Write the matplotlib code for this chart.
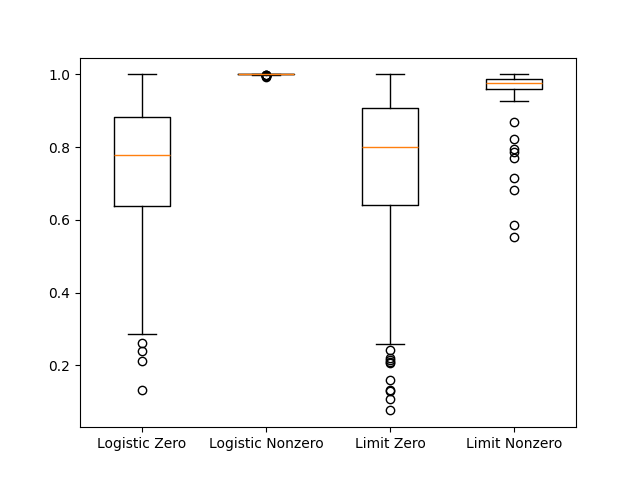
import matplotlib as mpl
import matplotlib.pyplot as plt

mpl.use('Agg')

# box stats
labels = ['Logistic Zero', 'Logistic Nonzero', 'Limit Zero', 'Limit Nonzero']
medians = [0.779, 1.0, 0.801, 0.977]
q1s = [0.639, 0.9999, 0.642, 0.960]
q3s = [0.883, 1.0, 0.908, 0.988]
whislos = [0.285, 0.9997, 0.258, 0.928]
whishis = [1.0, 1.0, 1.0, 1.0]
fliers = [
    [0.261, 0.240, 0.213, 0.133],
    [0.9985, 0.9978, 0.997, 0.9962, 0.9955, 0.9948, 0.994],
    [0.241, 0.220, 0.215, 0.210, 0.205, 0.159, 0.133, 0.128, 0.108, 0.076],
    [0.868, 0.822, 0.794, 0.786, 0.770, 0.716, 0.683, 0.585, 0.553],
]

stats = []
for i in range(len(labels)):
    stats.append({
        'label': labels[i],
        'med': medians[i],
        'q1': q1s[i],
        'q3': q3s[i],
        'whislo': whislos[i],
        'whishi': whishis[i],
        'fliers': fliers[i],
    })

fig, ax = plt.subplots(figsize=(6.4, 4.8), dpi=100)
ax.bxp(stats)
plt.savefig('out.png')
